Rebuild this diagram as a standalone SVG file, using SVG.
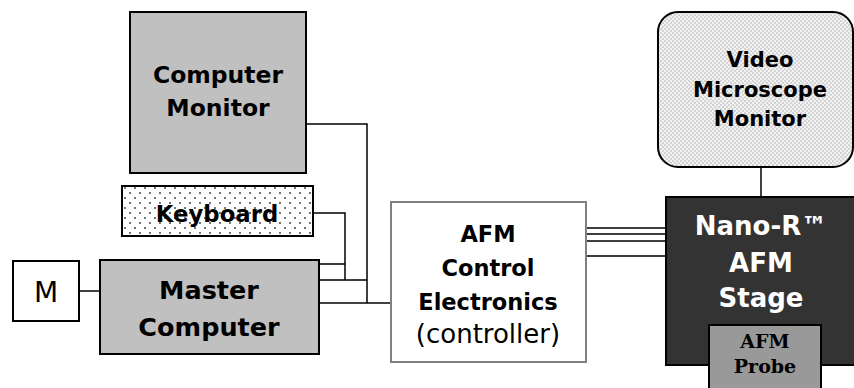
<svg xmlns="http://www.w3.org/2000/svg" width="854" height="388" viewBox="0 0 854 388">
<defs>
  <pattern id="dots" width="10" height="10" patternUnits="userSpaceOnUse" x="122" y="186">
    <rect width="10" height="10" fill="#ffffff"/>
    <circle cx="3" cy="2" r="0.9" fill="#333"/>
    <circle cx="8" cy="7" r="0.9" fill="#333"/>
  </pattern>
  <pattern id="check" width="4" height="4" patternUnits="userSpaceOnUse">
    <rect width="4" height="4" fill="#f2f2f2"/>
    <path d="M0 0h2v2H0zM2 2h2v2H2z" fill="#d4d4d4"/>
  </pattern>
</defs>
<style>
  .box { stroke: #000; stroke-width: 2; }
  .gray { fill: #c0c0c0; }
  .b { font-family: "DejaVu Sans", Verdana, sans-serif; font-weight: bold; text-anchor: middle; fill: #000; }
  .r { font-family: "DejaVu Sans", Verdana, sans-serif; text-anchor: middle; fill: #000; }
  .w { fill: #fff; }
  .serif { font-family: "DejaVu Serif", "Liberation Serif", serif; font-weight: bold; text-anchor: middle; fill: #000; }
  .wire { stroke: #000; stroke-width: 1.5; fill: none; }
</style>
<rect width="854" height="388" fill="#fff"/>

<g id="connectors">
  <path class="wire" d="M306 124H367V303"/>
  <path class="wire" d="M313 213H345V280"/>
  <path class="wire" d="M319 264H345"/>
  <path class="wire" d="M319 280H367"/>
  <path class="wire" d="M319 303H392"/>
  <path class="wire" d="M79 291H100"/>
  <path class="wire" d="M586 228H667M586 234H667M586 241H667M586 256H667"/>
  <path class="wire" d="M761 167V204"/>
</g>

<g id="computer-monitor">
  <rect class="box gray" x="130" y="12" width="176" height="161"/>
  <text class="b" x="218" y="83" font-size="23.5">Computer</text>
  <text class="b" x="218" y="116" font-size="23.5">Monitor</text>
</g>

<g id="keyboard">
  <rect class="box" x="122" y="186" width="191" height="50" fill="url(#dots)"/>
  <text class="b" x="217" y="222" font-size="22.8">Keyboard</text>
</g>

<g id="m">
  <rect class="box" x="13" y="261" width="66" height="60" fill="#fff"/>
  <text class="r" x="46" y="302" font-size="28">M</text>
</g>

<g id="master-computer">
  <rect class="box gray" x="100" y="260" width="219" height="94"/>
  <text class="b" x="209" y="299" font-size="25.5">Master</text>
  <text class="b" x="209" y="336" font-size="25.5">Computer</text>
</g>

<g id="afm-control">
  <rect x="391" y="202" width="195" height="160" fill="#fff" stroke="#808080" stroke-width="2"/>
  <text class="b" x="488" y="242" font-size="22.5">AFM</text>
  <text class="b" x="488" y="276" font-size="22.5">Control</text>
  <text class="b" x="488" y="310" font-size="22.5">Electronics</text>
  <text class="r" x="488" y="343" font-size="26">(controller)</text>
</g>

<g id="video-monitor">
  <rect class="box" x="658" y="12" width="195" height="155" rx="20" ry="20" fill="url(#check)"/>
  <text class="b" x="760" y="67" font-size="21">Video</text>
  <text class="b" x="760" y="97" font-size="21">Microscope</text>
  <text class="b" x="760" y="126" font-size="21">Monitor</text>
</g>

<g id="nano-r">
  <rect class="box" x="666" y="197" width="200" height="168" fill="#333333"/>
  <text class="b w" x="761" y="235" font-size="26">Nano-R™</text>
  <text class="b w" x="761" y="272" font-size="26">AFM</text>
  <text class="b w" x="761" y="307" font-size="26">Stage</text>
</g>

<g id="afm-probe">
  <rect class="box" x="709" y="325" width="112" height="70" fill="#999999"/>
  <text class="serif" x="765" y="348" font-size="19">AFM</text>
  <text class="serif" x="765" y="373" font-size="19">Probe</text>
</g>
</svg>
